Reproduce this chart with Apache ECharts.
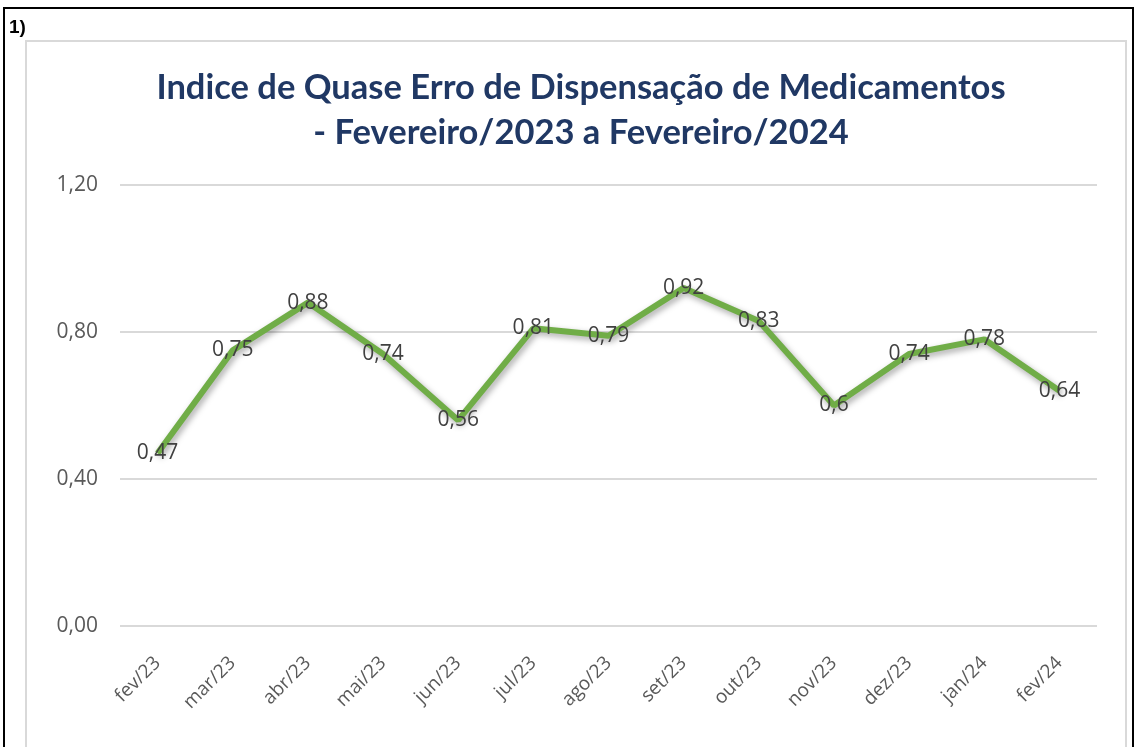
<!DOCTYPE html>
<html>
<head>
<meta charset="utf-8">
<script src="https://cdn.jsdelivr.net/npm/echarts@6/dist/echarts.min.js"></script>
<style>
  html, body { margin: 0; padding: 0; background: #fff; }
  #chart { width: 1135px; height: 747px; }
</style>
</head>
<body>
<div id="chart"></div>
<script>
// data
const months = ['fev/23', 'mar/23', 'abr/23', 'mai/23', 'jun/23', 'jul/23', 'ago/23',
  'set/23', 'out/23', 'nov/23', 'dez/23', 'jan/24', 'fev/24'];
const indice = [0.47, 0.75, 0.88, 0.74, 0.56, 0.81, 0.79, 0.92, 0.83, 0.6, 0.74, 0.78, 0.64];
const yTicks = [0, 0.4, 0.8, 1.2];

const titleText = 'Indice de Quase Erro de Dispensação de Medicamentos\n- Fevereiro/2023 a Fevereiro/2024';

// brazilian decimal comma
const comma = v => String(v).replace('.', ',');

const chart = echarts.init(document.getElementById('chart'));
const option = {
  backgroundColor: '#fff',
  animation: false,
  title: [
    {
      text: titleText,
      left: 576,
      textAlign: 'center',
      top: 60,
      textStyle: {
        fontFamily: 'Lato',
        fontWeight: 'bold',
        fontSize: 34.5,
        lineHeight: 45,
        color: '#203864'
      }
    },
    {
      // the numbering of the document cell
      text: '1)',
      left: 9,
      top: 18,
      padding: 0,
      textStyle: {
        fontFamily: 'Liberation Sans',
        fontWeight: 'bold',
        fontSize: 19,
        lineHeight: 20,
        color: '#000'
      }
    }
  ],
  graphic: [
    // outer black frame of the page cell
    { type: 'rect', shape: { x: 4, y: 8, width: 1129, height: 780 },
      style: { fill: 'none', stroke: '#000', lineWidth: 2 }, silent: true },
    // light chart-area border
    { type: 'rect', shape: { x: 26, y: 41, width: 1100, height: 760 },
      style: { fill: 'none', stroke: '#d9d9d9', lineWidth: 2 }, silent: true }
  ],
  grid: { left: 120, right: 38, top: 185, bottom: 121 },
  xAxis: {
    type: 'category',
    data: months,
    boundaryGap: true,
    axisLine: { show: false },
    axisTick: { show: false },
    axisLabel: {
      rotate: 45,
      margin: 34,
      fontFamily: 'Open Sans',
      fontSize: 19,
      color: '#595959'
    }
  },
  yAxis: {
    type: 'value',
    min: yTicks[0],
    max: yTicks[yTicks.length - 1],
    interval: 0.4,
    axisLine: { show: false },
    axisTick: { show: false },
    splitLine: { lineStyle: { color: '#d9d9d9', width: 2 } },
    axisLabel: {
      margin: 22,
      fontFamily: 'Open Sans',
      fontSize: 21,
      color: '#595959',
      formatter: v => v.toFixed(2).replace('.', ',')
    }
  },
  series: [
    {
      name: 'Indice',
      type: 'line',
      data: indice,
      symbol: 'circle',
      symbolSize: 2,
      itemStyle: { color: 'transparent' },
      lineStyle: {
        color: '#70ad47',
        width: 6,
        shadowColor: 'rgba(0, 0, 0, 0.35)',
        shadowBlur: 6,
        shadowOffsetX: 2,
        shadowOffsetY: 3
      },
      label: {
        show: true,
        position: 'inside',
        fontFamily: 'Open Sans',
        fontSize: 21,
        color: '#404040',
        formatter: p => comma(p.value)
      }
    }
  ]
};
chart.setOption(option);
</script>
</body>
</html>
